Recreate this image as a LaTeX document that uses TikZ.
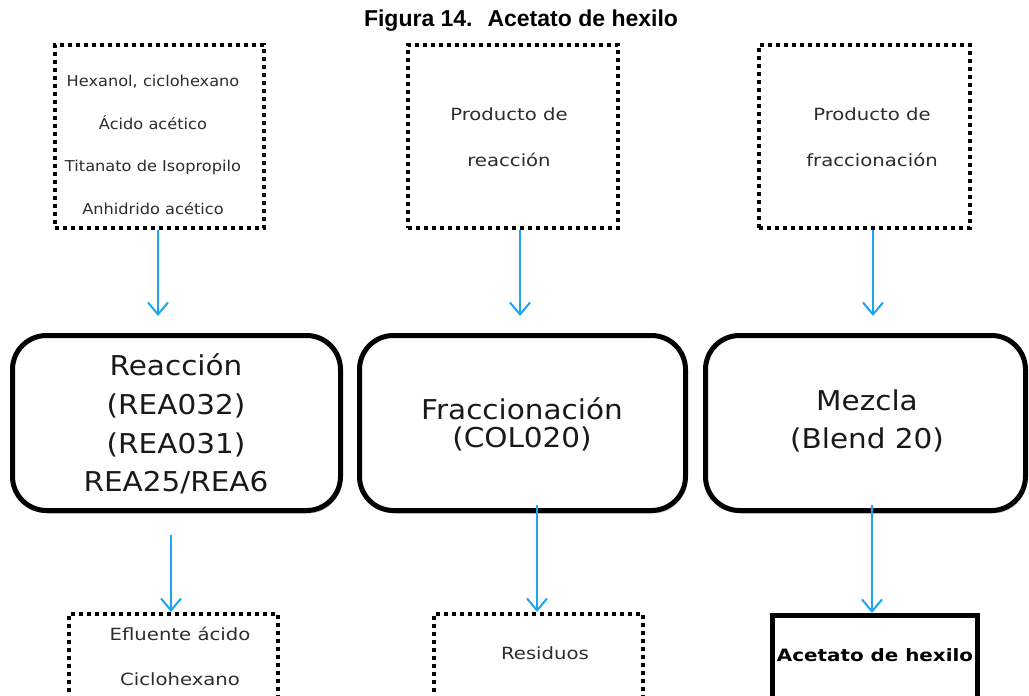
\documentclass[tikz,border=0pt]{standalone}
\usepackage{fontspec}
\usetikzlibrary{arrows.meta,shadows}
\newfontfamily\smallface[FakeStretch=1.17]{DejaVu Sans}
\newfontfamily\listface[FakeStretch=1.08]{DejaVu Sans}
\newfontfamily\bigface[FakeStretch=1.08]{DejaVu Sans}
\newfontfamily\titleface{Liberation Sans}
\definecolor{flowblue}{RGB}{30,165,240}
\definecolor{ink}{RGB}{45,45,45}
\begin{document}
\begin{tikzpicture}[x=1pt,y=-1pt,
  dotbox/.style={draw=black, line width=4pt, dash pattern=on 4pt off 4pt,
    inner sep=0pt, minimum width=#1},
  dotbox/.default=209pt,
  stagebox/.style={draw=black, line width=5pt, rounded corners=34pt, fill=white,
    inner sep=0pt, minimum height=175pt, minimum width=#1,
    drop shadow={shadow xshift=1.5pt, shadow yshift=-3pt, opacity=0.25, fill=black}},
  productbox/.style={draw=black, line width=5pt, inner sep=0pt,
    minimum width=205pt, minimum height=114.5pt},
  smalltxt/.style n args={2}{font=\smallface\fontsize{#1}{#2}\selectfont, text=ink, align=center},
  listtxt/.style={font=\listface\fontsize{15}{42.7}\selectfont, text=ink, align=center},
  bigtxt/.style={font=\bigface\fontsize{27.3}{#1}\selectfont, text=black!90, align=center},
  flow/.style={draw=flowblue, line width=2pt,
    -{Straight Barb[length=12pt, width=20pt, line width=2pt]}}
]
\clip (0,0) rectangle (1029,696);
\fill[white] (0,0) rectangle (1029,696);

% title
\node[font=\titleface\bfseries\fontsize{23}{26}\selectfont] (title) at (521,21)
  {Figura 14.~ Acetato de hexilo};

% input boxes
\node[dotbox, minimum height=183pt] (in1) at (159.5,136.5) {};
\node[dotbox=210pt, minimum height=183pt] (in2) at (513,136.5) {};
\node[dotbox=211pt, minimum height=183pt] (in3) at (864.5,136.5) {};
\node[listtxt] (in1txt) at (153,145)
  {Hexanol, ciclohexano\\ Ácido acético\\ Titanato de Isopropilo\\ Anhidrido acético};
\node[smalltxt={16.8}{46}] (in2txt) at (509,137) {Producto de\\ reacción};
\node[smalltxt={16.8}{46}] (in3txt) at (872,137) {Producto de\\ fraccionación};

% process stages
\node[stagebox=328pt] (reac) at (176.5,423) {};
\node[stagebox=326pt] (frac) at (522.5,423) {};
\node[stagebox=320pt] (mix) at (865.5,423) {};
\node[bigtxt=38.7pt] (reactxt) at (176,424)
  {Reacción\\ (REA032)\\ (REA031)\\ REA25/REA6};
\node[bigtxt=28pt] (fractxt) at (522,424) {Fraccionación\\ (COL020)};
\node[bigtxt=38pt] (mixtxt) at (867,421) {Mezcla\\ (Blend 20)};

% outputs
\node[dotbox, minimum height=116pt] (out1) at (173.5,672) {};
\node[dotbox, minimum height=116pt] (out2) at (538.5,672) {};
\node[productbox] (out3) at (875,672.75) {};
\node[smalltxt={16.8}{45}] (out1txt) at (180,656.5) {Efluente ácido\\ Ciclohexano};
\node[smalltxt={16.8}{20}] (out2txt) at (545,653) {Residuos};
\node[font=\smallface\bfseries\fontsize{17}{20}\selectfont, text=black] (out3txt)
  at (875,655) {Acetato de hexilo};

% connector end points
\coordinate (t1) at (158,316);
\coordinate (t2) at (520,316);
\coordinate (t3) at (873,316);
\coordinate (s4) at (171,535);
\coordinate (s5) at (537,505);
\coordinate (s6) at (872,505);

\draw[flow] (in1.south -| t1) -- (t1);
\draw[flow] (in2.south -| t2) -- (t2);
\draw[flow] (in3.south -| t3) -- (t3);
\draw[flow] (s4) -- (s4 |- out1.north);
\draw[flow] (s5) -- (s5 |- out2.north);
\draw[flow] (s6) -- (s6 |- out3.north);
\end{tikzpicture}
\end{document}
